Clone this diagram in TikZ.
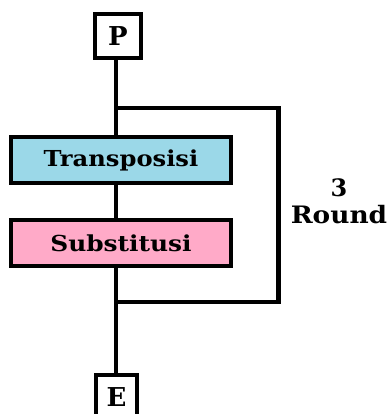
\documentclass[tikz,border=0pt]{standalone}
\usepackage{fontspec}
\setmainfont{DejaVu Serif}
\definecolor{tblue}{RGB}{155,216,232}
\definecolor{spink}{RGB}{255,170,200}
\begin{document}
\begin{tikzpicture}[x=1pt,y=-1pt,
  conn/.style={line width=4.8pt},
  box/.style={draw,line width=4.8pt,inner sep=0pt,font=\bfseries\fontsize{22}{26}\selectfont},
  lbl/.style={font=\bfseries\fontsize{24}{27}\selectfont,align=center}]
\useasboundingbox (0,0) rectangle (388,414);
\node[box,minimum width=46pt,minimum height=44pt,font=\bfseries\fontsize{26}{28}\selectfont] (P) at (118,36) {P};
\node[box,fill=tblue,minimum width=220pt,minimum height=46pt] (T) at (121,160) {\scalebox{1.1}[1]{Transposisi}};
\node[box,fill=spink,minimum width=220pt,minimum height=46pt] (S) at (121,243) {\scalebox{1.13}[1]{Substitusi}};
\node[box,minimum width=41pt,minimum height=44pt,font=\bfseries\fontsize{26}{28}\selectfont] (E) at (116.5,397) {E};
\coordinate (j1) at (116,108);
\coordinate (j2) at (116,302);
\coordinate (r) at (278.5,205);
\draw[conn] (P.south -| j1) -- (T.north -| j1);
\draw[conn] (T.south -| j1) -- (S.north -| j1);
\draw[conn] (S.south -| j1) -- (E.north -| j1);
\draw[conn] (j1) -| (r) |- (j2);
\node[lbl] (R) at (339,201) {3\\\scalebox{1.1}[1]{Round}};
\end{tikzpicture}
\end{document}
